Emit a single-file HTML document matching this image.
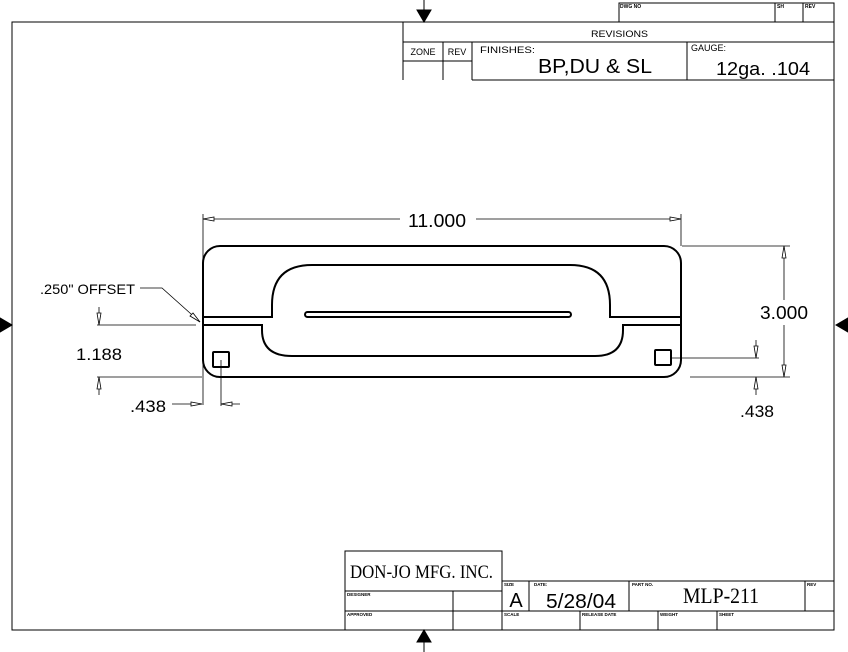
<!DOCTYPE html>
<html><head><meta charset="utf-8"><style>html,body{margin:0;padding:0;background:#fff}svg{display:block}</style></head><body>
<svg width="848" height="652" viewBox="0 0 848 652" xmlns="http://www.w3.org/2000/svg">
<g fill="none" stroke="#000" stroke-width="1">
<rect x="12" y="22" width="822" height="608"/>
<path d="M619,22V3H834V22M775,3V22M803,3V22"/>
<path d="M403,22V80M403,42H834M443,42V80M472,42V80M403,61H472M472,80H834M687,42V80"/>
<path d="M345,630V551H502V630M345,591H502M345,611H834M453,591V630M502,581H834M529,581V611M629,581V611M805,581V611M580,611V630M658,611V630M717,611V630"/>
</g>
<g fill="#000" stroke="#000">
<line x1="424" y1="0" x2="424" y2="12"/><polygon points="417,10 431,10 424,22"/>
<line x1="424" y1="640" x2="424" y2="652"/><polygon points="417,642 431,642 424,630"/>
<polygon points="0,318 0,332 12,325"/>
<polygon points="848,318 848,332 836,325"/>
</g>
<g font-family="Liberation Sans, sans-serif" fill="#000" lengthAdjust="spacingAndGlyphs">
<text x="620" y="8" font-size="5" font-weight="bold">DWG NO</text>
<text x="777" y="8" font-size="5" font-weight="bold">SH</text>
<text x="805" y="8" font-size="5" font-weight="bold">REV</text>
<text x="591" y="37" font-size="9" textLength="57" lengthAdjust="spacingAndGlyphs">REVISIONS</text>
<text x="423" y="55" font-size="9" text-anchor="middle">ZONE</text>
<text x="457" y="55" font-size="9" text-anchor="middle">REV</text>
<text x="480" y="53" font-size="9" textLength="55" lengthAdjust="spacingAndGlyphs">FINISHES:</text>
<text x="538" y="73" font-size="20" textLength="114" lengthAdjust="spacingAndGlyphs">BP,DU &amp; SL</text>
<text x="691" y="51" font-size="9">GAUGE:</text>
<text x="716" y="75" font-size="18" textLength="94" lengthAdjust="spacingAndGlyphs">12ga.  .104</text>
<text x="350" y="578" font-size="19" font-family="Liberation Serif, serif" textLength="143" lengthAdjust="spacingAndGlyphs">DON-JO MFG. INC.</text>
<text x="347" y="596" font-size="4.5" font-weight="bold">DESIGNER</text>
<text x="347" y="616" font-size="4.5" font-weight="bold">APPROVED</text>
<text x="504" y="586" font-size="4.5" font-weight="bold">SIZE</text>
<text x="534" y="586" font-size="4.5" font-weight="bold">DATE:</text>
<text x="632" y="586" font-size="4.5" font-weight="bold">PART NO.</text>
<text x="807" y="586" font-size="4.5" font-weight="bold">REV</text>
<text x="504" y="616" font-size="4.5" font-weight="bold">SCALE</text>
<text x="582" y="616" font-size="4.5" font-weight="bold">RELEASE DATE</text>
<text x="660" y="616" font-size="4.5" font-weight="bold">WEIGHT</text>
<text x="719" y="616" font-size="4.5" font-weight="bold">SHEET</text>
<text x="516" y="607" font-size="20" text-anchor="middle">A</text>
<text x="546" y="608" font-size="20" textLength="70" lengthAdjust="spacingAndGlyphs">5/28/04</text>
<text x="683" y="603" font-size="22" font-family="Liberation Serif, serif" textLength="76" lengthAdjust="spacingAndGlyphs">MLP-211</text>
<text x="408" y="227" font-size="18" textLength="58" lengthAdjust="spacingAndGlyphs">11.000</text>
<text x="760" y="319" font-size="18" textLength="48" lengthAdjust="spacingAndGlyphs">3.000</text>
<text x="740" y="417" font-size="17" textLength="34" lengthAdjust="spacingAndGlyphs">.438</text>
<text x="76" y="360" font-size="17" textLength="46" lengthAdjust="spacingAndGlyphs">1.188</text>
<text x="130" y="412" font-size="17" textLength="36" lengthAdjust="spacingAndGlyphs">.438</text>
<text x="40" y="294" font-size="14" textLength="95" lengthAdjust="spacingAndGlyphs">.250" OFFSET</text>
</g>
<g fill="none" stroke="#000" stroke-width="2">
<rect x="203" y="246" width="478" height="131" rx="17"/>
<path d="M203,317H272V305Q272,265 312,265H570Q610,265 610,305V317H681"/>
<path d="M681,325H623V330Q623,356 595,356H292Q262,356 262,330V325H203"/>
<rect x="305" y="312" width="266" height="5" rx="2.5"/>
<rect x="213" y="352" width="16" height="15" rx="1"/>
<rect x="655" y="350" width="16" height="15" rx="1"/>
</g>
<g fill="none" stroke="#000" stroke-width="0.8">
<path d="M203,214V405M681,214V246M203,219H400M476,219H681"/>
<path d="M682,246H790M690,377H790M784,246V300M784,325V377"/>
<path d="M672,358H759M756,340V358M756,377V395"/>
<path d="M97,325H196M97,377H202M99,307V325M99,377V395"/>
<path d="M140,288H162L200,322"/>
<path d="M172,404H202M221,360V406M221,404H240"/>
</g>
<g fill="#fff" stroke="#000" stroke-width="0.8">
<polygon points="203,219 214,217 214,221"/>
<polygon points="681,219 670,217 670,221"/>
<polygon points="784,246 782,258 786,258"/>
<polygon points="784,377 782,365 786,365"/>
<polygon points="756,358 754,346 758,346"/>
<polygon points="756,377 754,389 758,389"/>
<polygon points="99,325 97,313 101,313"/>
<polygon points="99,377 97,389 101,389"/>
<polygon points="202,404 191,402 191,406"/>
<polygon points="221,404 232,402 232,406"/>
<polygon points="200,322 193,313 190,316"/>
</g>
</svg>
</body></html>
